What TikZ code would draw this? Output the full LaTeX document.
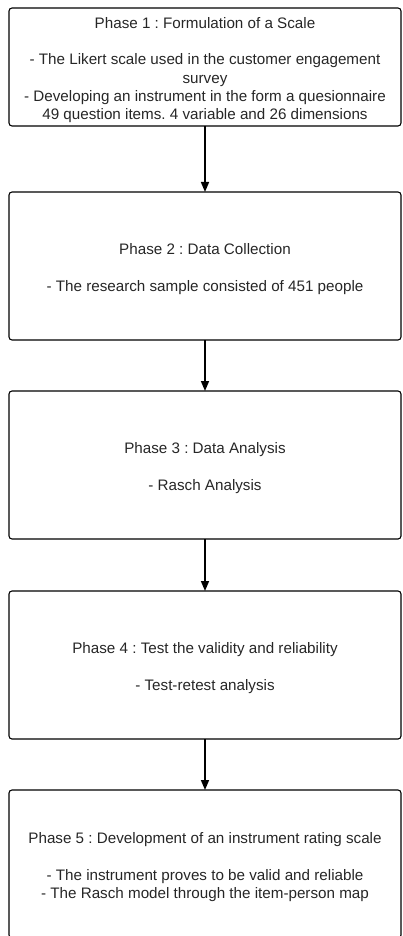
\documentclass[tikz,border=0pt]{standalone}
\usepackage{fontspec}
\setmainfont{Liberation Sans}
\usetikzlibrary{arrows.meta}
\begin{document}
\begin{tikzpicture}[x=1pt,y=-1pt,
  phasebox/.style={draw=black, line width=1.1pt, rounded corners=3pt,
    minimum width=392pt, inner sep=0pt, outer sep=0pt},
  phasetext/.style={inner sep=0pt, align=center, yshift=-3pt,
    text=black!85, font=\fontsize{15.2}{18.3}\selectfont\frenchspacing},
  arr/.style={line width=1.5pt, -{Triangle[length=10pt,width=8pt]}}]
\useasboundingbox (0,0) rectangle (403,936);
\clip (0,0) rectangle (403,936);
\node[phasebox, minimum height=118pt] (b1) at (205,67) {};
\node[phasetext] (t1) at (b1.center)
  {Phase 1 : Formulation of a Scale\\[18.3pt]
   - The Likert scale used in the customer engagement\\
   survey\\
   - Developing an instrument in the form a quesionnaire\\
   49 question items. 4 variable and 26 dimensions};
\node[phasebox, minimum height=148pt] (b2) at (205,266) {};
\node[phasetext] (t2) at (b2.center)
  {Phase 2 : Data Collection\\[18.3pt]
   - The research sample consisted of 451 people};
\node[phasebox, minimum height=148pt] (b3) at (205,465) {};
\node[phasetext] (t3) at (b3.center)
  {Phase 3 : Data Analysis\\[18.3pt]
   - Rasch Analysis};
\node[phasebox, minimum height=148pt] (b4) at (205,665) {};
\node[phasetext] (t4) at (b4.center)
  {Phase 4 : Test the validity and reliability\\[18.3pt]
   - Test-retest analysis};
\node[phasebox, minimum height=148pt] (b5) at (205,864) {};
\node[phasetext] (t5) at (b5.center)
  {Phase 5 : Development of an instrument rating scale\\[18.3pt]
   - The instrument proves to be valid and reliable\\
   - The Rasch model through the item-person map};
\draw[arr] (b1) -- (b2);
\draw[arr] (b2) -- (b3);
\draw[arr] (b3) -- (b4);
\draw[arr] (b4) -- (b5);
\end{tikzpicture}
\end{document}
